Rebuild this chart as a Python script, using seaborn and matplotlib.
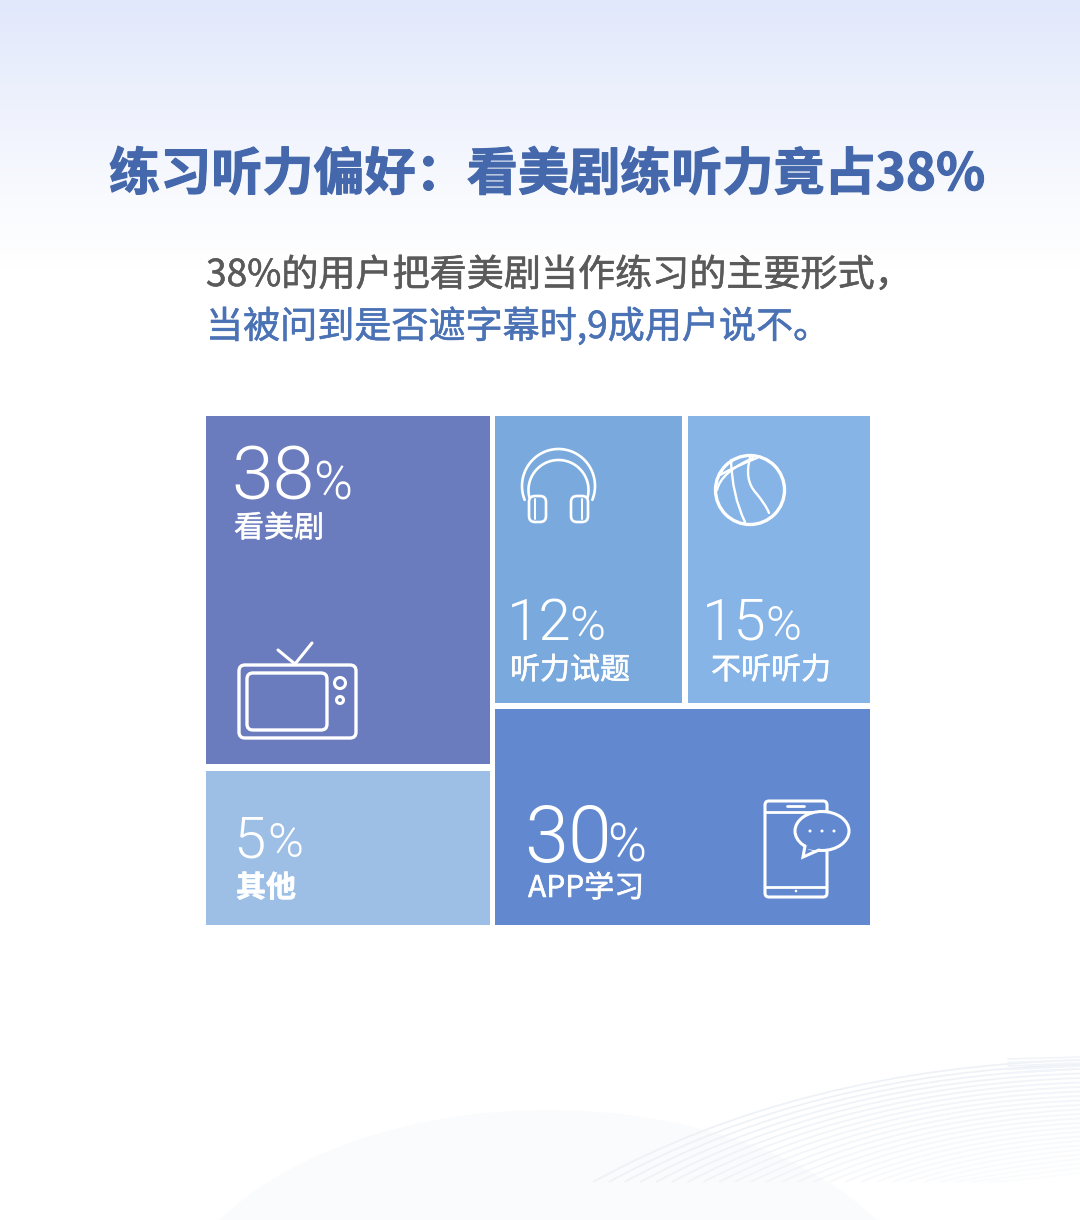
import numpy as np
import matplotlib
matplotlib.use('Agg')
import matplotlib.pyplot as plt
import matplotlib.patheffects as pe
from matplotlib.patches import Circle, Ellipse, FancyBboxPatch, PathPatch
from matplotlib.path import Path
from matplotlib.colors import LinearSegmentedColormap
import seaborn as sns

# data
labels = ['看美剧', '听力试题', '不听听力', 'APP学习', '其他']
shares = [38, 12, 15, 30, 5]
title = '练习听力偏好：看美剧练听力竟占38%'
sub1 = '38%的用户把看美剧当作练习的主要形式，'
sub2 = '当被问到是否遮字幕时,9成用户说不。'

# tile layout in pixels
tile_x0 = [206, 495, 688, 495, 206]
tile_x1 = [490, 682, 870, 870, 490]
tile_y0 = [416, 416, 416, 709, 771]
tile_y1 = [764, 703, 703, 925, 925]
tile_cols = sns.color_palette(['#6a7cbd', '#7aaadd', '#86b4e6', '#6289d0', '#9dbfe6'])

num_x = [231, 507, 702, 524, 233]
num_y = [499, 640, 640, 862, 857]
num_size = [54, 42, 42, 57, 42]
pct_x = [313, 569, 765, 607, 267]
pct_size = [38, 35, 35, 38, 35]
lab_x = [234, 510, 711, 528, 236]
lab_y = [537, 679, 679, 897, 897]
lab_weight = ['normal', 'normal', 'normal', 'normal', 'bold']

sns.set_theme(style='white')
plt.rcParams['font.family'] = ['Noto Sans CJK SC', 'DejaVu Sans']
NUMFONT = ['Roboto', 'DejaVu Sans']


def thick(col, lw):
    return [pe.withStroke(linewidth=lw, foreground=col)]


fig = plt.figure(figsize=(10.8, 12.2), dpi=100)
ax = fig.add_axes([0, 0, 1, 1])

# background gradient on top
cmap = LinearSegmentedColormap.from_list('bg', [(0, '#e1e8fb'), (0.4, '#eef2fd'), (0.72, '#f8fafe'), (1, '#ffffff')])
grad = np.linspace(0, 1, 260).reshape(-1, 1)
ax.imshow(grad, cmap=cmap, extent=[0, 1080, 270, 0], aspect='auto', zorder=0)
ax.set_xlim(0, 1080)
ax.set_ylim(1220, 0)
ax.axis('off')

# faint shapes at the bottom
ax.add_patch(Ellipse((548, 1340), 770, 460, fc='#f9fbfd', ec='none', zorder=0.5))
for i in range(26):
    off = i * 4.5
    verts = [(593 + off * 3.5, 1182), (800 + off * 2, 1068 + off), (1080, 1060 + off)]
    ax.add_patch(PathPatch(Path(verts, [Path.MOVETO, Path.CURVE3, Path.CURVE3]), fc='none',
                           ec='#eef2f7', lw=1.3, alpha=1 - i / 32, zorder=0.6))
for i in range(5):
    ax.plot([1008, 1080], [1073 - i * 3.5, 1069 - i * 3], color='#f1f4f8', lw=1.2, zorder=0.6)

# title and sub text
ax.text(109, 190, title, fontsize=36.8, fontweight=900, color='#4468ab', va='baseline',
        path_effects=thick('#4468ab', 0.8))
ax.text(206, 286, sub1, fontsize=26.7, color='#5a5a5a', va='baseline', path_effects=thick('#5a5a5a', 0.4))
ax.text(206, 338, sub2, fontsize=26.7, color='#4a72b5', va='baseline', path_effects=thick('#4a72b5', 0.4))

# tiles
for i in range(len(shares)):
    ax.bar(tile_x0[i], tile_y1[i] - tile_y0[i], width=tile_x1[i] - tile_x0[i], bottom=tile_y0[i],
           align='edge', color=tile_cols[i], linewidth=0, zorder=2)
    ax.text(num_x[i], num_y[i], str(shares[i]), fontsize=num_size[i], family=NUMFONT, fontweight=300,
            color='white', va='baseline', zorder=3)
    ax.text(pct_x[i], num_y[i], '%', fontsize=pct_size[i], family=NUMFONT, fontweight=300,
            color='white', va='baseline', zorder=3)
    ax.text(lab_x[i], lab_y[i], labels[i], fontsize=21.6, fontweight=lab_weight[i],
            color='white', va='baseline', zorder=3, path_effects=thick('white', 0.4))

W = dict(ec='white', fc='none', zorder=3)


def box(x0, y0, x1, y1, r, lw=2.4, fc='none'):
    ax.add_patch(FancyBboxPatch((x0 + r, y0 + r), x1 - x0 - 2 * r, y1 - y0 - 2 * r,
                                boxstyle=f'round,pad={r}', ec='white', fc=fc, lw=lw, zorder=3))


def curve(pts, lw=1.7):
    codes = [Path.MOVETO] + [Path.CURVE3] * (len(pts) - 1)
    ax.add_patch(PathPatch(Path(pts, codes), lw=lw, capstyle='round', **W))


# tv icon
box(239, 665, 356, 738, 6)
box(247, 673, 327, 730, 6)
ax.add_patch(Circle((340, 683), 5.5, lw=2.2, **W))
ax.add_patch(Circle((340, 700), 3.5, lw=2.2, **W))
ax.plot([278, 295, 312], [650, 664, 643], color='white', lw=2.2, zorder=3)

# headphones icon
t = np.radians(np.linspace(158, 382, 70))
ax.plot(558.5 + 36.5 * np.cos(t), 486 + 37 * np.sin(t), color='white', lw=1.9, zorder=3)
t = np.radians(np.linspace(165, 375, 70))
ax.plot(558.5 + 30 * np.cos(t), 490 + 30 * np.sin(t), color='white', lw=1.9, zorder=3)
box(529, 496, 546, 522, 6, lw=1.9)
box(571, 496, 588, 522, 6, lw=1.9)
ax.plot([535, 535], [499, 519], color='white', lw=1.4, zorder=3)
ax.plot([582, 582], [499, 519], color='white', lw=1.4, zorder=3)

# basketball icon
ax.add_patch(Circle((750, 490), 34.5, lw=2.4, **W))
curve([(750, 458), (744, 480), (756, 493), (766, 505), (769, 513)])
curve([(731, 460), (732, 495), (745, 522)])
curve([(717, 490), (721, 472), (753, 458)])
curve([(720, 475), (736, 466), (757, 458)])

# phone icon
box(765, 801, 827, 897, 4, lw=2.2)
ax.plot([766, 826], [812, 812], color='white', lw=2, zorder=3)
ax.plot([766, 826], [887, 887], color='white', lw=2, zorder=3)
ax.plot([787, 804], [806, 806], color='white', lw=2, zorder=3)
ax.add_patch(Circle((796, 891), 1.3, fc='white', ec='none', zorder=3))
ax.add_patch(Ellipse((822, 831), 54, 39, fc=tile_cols[3], ec='white', lw=2.2, zorder=3))
ax.plot([805, 803, 819], [846, 857, 850], color='white', lw=2.2, zorder=3.1, solid_joinstyle='miter')
ax.plot([806, 818], [847, 849], color=tile_cols[3], lw=2.6, zorder=3.05)
for dx in [810, 822, 834]:
    ax.add_patch(Circle((dx, 831), 1.5, fc='white', ec='none', zorder=3.2))

sns.despine(ax=ax, left=True, bottom=True)
fig.savefig('out.png', dpi=100)
